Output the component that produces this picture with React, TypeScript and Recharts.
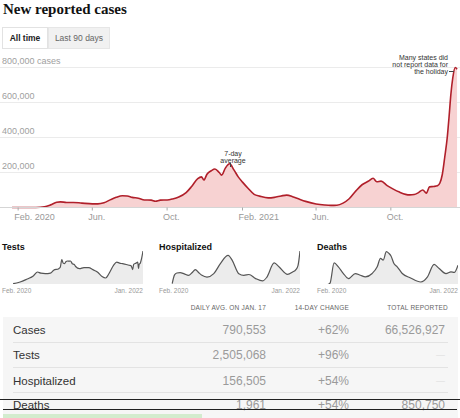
import React from 'react';
import { AreaChart, Area, XAxis, YAxis, CartesianGrid, ReferenceLine } from 'recharts';

const SANS = '"Liberation Sans", Arial, sans-serif';

// ---- Main chart: new reported cases (7-day average) ----
const caseDates = ['2020-01-22','2020-03-01','2020-03-15','2020-03-25','2020-04-04','2020-04-10','2020-04-20','2020-05-01','2020-05-15','2020-06-01','2020-06-10','2020-06-20','2020-07-01','2020-07-10','2020-07-20','2020-07-28','2020-08-05','2020-08-15','2020-08-25','2020-09-05','2020-09-12','2020-09-20','2020-10-01','2020-10-10','2020-10-20','2020-11-01','2020-11-10','2020-11-20','2020-11-26','2020-11-30','2020-12-05','2020-12-12','2020-12-18','2020-12-25','2020-12-29','2021-01-04','2021-01-11','2021-01-18','2021-01-25','2021-02-01','2021-02-10','2021-02-20','2021-03-01','2021-03-15','2021-03-25','2021-04-05','2021-04-14','2021-04-25','2021-05-05','2021-05-15','2021-06-01','2021-06-15','2021-06-25','2021-07-05','2021-07-15','2021-07-25','2021-08-05','2021-08-15','2021-08-25','2021-09-02','2021-09-08','2021-09-15','2021-09-25','2021-10-05','2021-10-15','2021-10-25','2021-11-01','2021-11-08','2021-11-15','2021-11-22','2021-11-28','2021-12-03','2021-12-10','2021-12-16','2021-12-20','2021-12-24','2021-12-28','2022-01-01','2022-01-04','2022-01-07','2022-01-10','2022-01-14','2022-01-17'];
const caseValues = [0,0,4000,15000,30000,32000,29000,29000,25000,21000,21000,27000,45000,58000,67000,66000,58000,53000,43000,42000,36000,42000,43000,49000,60000,85000,120000,165000,175000,157000,190000,210000,220000,200000,185000,225000,250000,215000,175000,145000,110000,75000,65000,55000,58000,66000,71000,60000,47000,35000,20000,14000,12000,13000,25000,50000,95000,130000,150000,167000,147000,151000,125000,105000,88000,75000,72000,74000,85000,100000,82000,118000,120000,124000,140000,190000,290000,400000,520000,650000,740000,800000,790000];

const xTickDates = ['2020-02-01','2020-06-01','2020-10-01','2021-02-01','2021-06-01','2021-10-01'];
const xTickLabels = ['Feb. 2020','Jun.','Oct.','Feb. 2021','Jun.','Oct.'];
const yTickValues = [200000, 400000, 600000, 800000];
const yTickLabels = ['200,000', '400,000', '600,000', '800,000 cases'];

// ---- Small multiples (x = days since Jan. 22, 2020) ----
const testDays = [57,75,93,130,161,183,200,223,249,266,292,300,308,315,322,330,337,345,353,362,372,379,399,422,446,470,491,515,534,548,560,575,591,605,621,640,655,665,673,678,690,699,703,706,712,718,726];
const testValues = [70000,120000,190000,420000,640000,940000,850000,820000,860000,1070000,1190000,1300000,1860000,1600000,1560000,1720000,1760000,1750000,1760000,1560000,1500000,1350000,1190000,1270000,1270000,1100000,940000,600000,490000,750000,1070000,1450000,1680000,1600000,1560000,1500000,1440000,1400000,1120000,1500000,1600000,1680000,1200000,1500000,1600000,1900000,2505068];

const hospDays = [68,80,92,109,130,152,170,187,205,221,247,282,316,356,377,411,437,463,498,533,555,593,619,662,688,705,716,726];
const hospValues = [5000,45000,54000,56000,50000,43000,55000,70000,55000,43000,35000,51000,98000,136000,113000,51000,43000,47000,28000,17000,34000,101000,82000,48000,59000,70000,90000,156505];

const deathDays = [55,67,88,110,136,162,197,223,249,284,310,327,341,357,370,381,396,413,439,482,534,569,603,629,664,690,707,726];
const deathValues = [0,150,2200,1800,1120,610,1120,950,780,1120,1800,2650,2480,3330,3160,2900,2140,1800,1120,670,265,780,2040,1630,1120,1290,1230,1961];

// ---- Table ----
const tableHeaders = ['DAILY AVG. ON JAN. 17', '14-DAY CHANGE', 'TOTAL REPORTED'];
const rowLabels = ['Cases', 'Tests', 'Hospitalized', 'Deaths'];
const rowDaily = ['790,553', '2,505,068', '156,505', '1,961'];
const rowChange = ['+62%', '+96%', '+54%', '+54%'];
const rowTotal = ['66,526,927', '—', '—', '850,750'];

const DAY = 86400000;
const ts = (d: string) => {
  const [y, m, dd] = d.split('-').map(Number);
  return Date.UTC(y, m - 1, dd);
};
const START = ts('2020-01-22');

const mainData = caseDates.map((d, i) => ({ t: ts(d), v: caseValues[i] }));
const xTicks = xTickDates.map(ts);

const XTick = (props: any) => {
  const { x, payload } = props;
  const idx = xTicks.indexOf(payload.value);
  return (
    <text x={x - 4} y={180} fontSize={9} fill="#999" fontFamily={SANS} textAnchor="start">
      {xTickLabels[idx]}
    </text>
  );
};

const YTick = (props: any) => {
  const { y, payload } = props;
  const idx = yTickValues.indexOf(payload.value);
  return (
    <text x={2} y={y - 3.5} fontSize={9} fill="#a0a0a0" fontFamily={SANS} textAnchor="start">
      {yTickLabels[idx]}
    </text>
  );
};

const Small = ({ title, left, days, values, max }: any) => {
  const data = days.map((d: number, i: number) => ({ d, v: values[i] }));
  return (
    <>
      <div style={{ position: 'absolute', left, top: 241.5, fontFamily: SANS, fontWeight: 700, fontSize: 9, color: '#111' }}>{title}</div>
      <div style={{ position: 'absolute', left, top: 248.7 }}>
        <AreaChart width={141} height={35.6} data={data} margin={{ top: 2, right: 0, bottom: 0, left: 0 }} style={{ overflow: 'visible' }}>
          <XAxis dataKey="d" type="number" domain={[0, 726]} hide />
          <YAxis type="number" domain={[0, max]} hide />
          <ReferenceLine segment={[{ x: 0, y: 0 }, { x: days[0], y: 0 }]} stroke="#999" strokeDasharray="1 2" />
          <Area type="monotone" dataKey="v" stroke="#555" strokeWidth={1.2} fill="#ececec" fillOpacity={1} dot={false} isAnimationActive={false} />
        </AreaChart>
      </div>
      <div style={{ position: 'absolute', left, top: 287, fontFamily: SANS, fontSize: 6.5, color: '#999' }}>Feb. 2020</div>
      <div style={{ position: 'absolute', left: left + 141 - 40, width: 40, textAlign: 'right', top: 287, fontFamily: SANS, fontSize: 6.5, color: '#999' }}>Jan. 2022</div>
    </>
  );
};

export default function App() {
  const rowTops = [330, 355, 380.7, 405];
  return (
    <div style={{ position: 'absolute', left: 0, top: 0, width: 460, height: 418, background: '#fff', overflow: 'hidden' }}>
      <div style={{ position: 'absolute', left: 3, top: 1, fontFamily: '"Liberation Serif", serif', fontWeight: 700, fontSize: 15, color: '#121212' }}>
        New reported cases
      </div>
      <div style={{ position: 'absolute', left: 2, top: 27, width: 46, height: 22, boxSizing: 'border-box', border: '1px solid #e2e2e2', background: '#fff', fontFamily: SANS, fontWeight: 700, fontSize: 8.5, color: '#222', display: 'flex', alignItems: 'center', justifyContent: 'center' }}>All time</div>
      <div style={{ position: 'absolute', left: 48, top: 27, width: 62, height: 22, boxSizing: 'border-box', border: '1px solid #e6e6e6', background: '#f1f1f1', fontFamily: SANS, fontSize: 8.5, color: '#666', display: 'flex', alignItems: 'center', justifyContent: 'center' }}>Last 90 days</div>

      <div style={{ position: 'absolute', left: 0, top: 40 }}>
        <AreaChart width={460} height={190} data={mainData} margin={{ top: 27.5, right: 0, bottom: 0, left: 0 }} style={{ overflow: 'visible' }}>
          <CartesianGrid vertical={false} stroke="#ebebeb" />
          <XAxis dataKey="t" type="number" domain={[START - 19.6 * DAY, START + 730.8 * DAY]} ticks={xTicks} tick={<XTick />} tickSize={3} tickLine={{ stroke: '#aaa' }} axisLine={{ stroke: '#d5d5d5' }} height={22.5} interval={0} />
          <YAxis type="number" domain={[0, 800000]} ticks={yTickValues} tick={<YTick />} mirror width={60} axisLine={false} tickLine={false} interval={0} />
          <Area type="monotone" dataKey="v" stroke="#b01f2a" strokeWidth={1.6} fill="#f7d2d2" fillOpacity={1} dot={false} isAnimationActive={false} />
        </AreaChart>
      </div>

      <div style={{ position: 'absolute', left: 200, width: 66, top: 149.5, textAlign: 'center', fontFamily: SANS, fontSize: 7, lineHeight: '7px', color: '#333' }}>7-day<br />average</div>
      <div style={{ position: 'absolute', left: 230, top: 163, width: 1, height: 4, background: '#444' }} />

      <div style={{ position: 'absolute', left: 368, width: 80, top: 53.5, textAlign: 'right', fontFamily: SANS, fontSize: 7, lineHeight: '7px', color: '#333' }}>Many states did<br />not report data for<br />the holiday</div>
      <div style={{ position: 'absolute', left: 449, top: 70.5, width: 5, height: 1, background: '#444' }} />

      <Small title="Tests" left={2} days={testDays} values={testValues} max={2505068} />
      <Small title="Hospitalized" left={159} days={hospDays} values={hospValues} max={156505} />
      <Small title="Deaths" left={317} days={deathDays} values={deathValues} max={3400} />

      <div style={{ position: 'absolute', left: 150, width: 116, top: 304, textAlign: 'right', fontFamily: SANS, fontSize: 6.5, color: '#666', letterSpacing: 0.2 }}>{tableHeaders[0]}</div>
      <div style={{ position: 'absolute', left: 270, width: 79, top: 304, textAlign: 'right', fontFamily: SANS, fontSize: 6.5, color: '#666', letterSpacing: 0.2 }}>{tableHeaders[1]}</div>
      <div style={{ position: 'absolute', left: 360, width: 88, top: 304, textAlign: 'right', fontFamily: SANS, fontSize: 6.5, color: '#666', letterSpacing: 0.2 }}>{tableHeaders[2]}</div>

      <div style={{ position: 'absolute', left: 3, top: 316.7, width: 455, height: 102, background: '#f6f6f6' }} />
      {[341.7, 366.7, 391.7].map((y) => (
        <div key={y} style={{ position: 'absolute', left: 13, top: y, width: 435, height: 1, background: '#e3e3e3' }} />
      ))}
      {rowLabels.map((lab, i) => (
        <React.Fragment key={lab}>
          <div style={{ position: 'absolute', left: 13, top: rowTops[i] - 8, height: 16, lineHeight: '16px', fontFamily: SANS, fontSize: 11.5, color: '#333' }}>{lab}</div>
          <div style={{ position: 'absolute', left: 166, width: 100, textAlign: 'right', top: rowTops[i] - 8, height: 16, lineHeight: '16px', fontFamily: SANS, fontSize: 12, color: '#9a9a9a' }}>{rowDaily[i]}</div>
          <div style={{ position: 'absolute', left: 279, width: 70, textAlign: 'right', top: rowTops[i] - 8, height: 16, lineHeight: '16px', fontFamily: SANS, fontSize: 12, color: '#9a9a9a' }}>{rowChange[i]}</div>
          <div style={{ position: 'absolute', left: 345, width: 100, textAlign: 'right', top: rowTops[i] - 8, height: 16, lineHeight: '16px', fontFamily: SANS, fontSize: rowTotal[i] === '—' ? 9 : 12, color: rowTotal[i] === '—' ? '#dcdcdc' : '#9a9a9a' }}>{rowTotal[i]}</div>
        </React.Fragment>
      ))}

      <div style={{ position: 'absolute', left: 0, top: 398.5, width: 460, height: 1.5, background: '#222' }} />
      <div style={{ position: 'absolute', left: 3, top: 408.5, width: 454, height: 1.5, background: '#222' }} />
      <div style={{ position: 'absolute', left: 3, top: 413.5, width: 199, height: 5, background: '#d3ecce' }} />
    </div>
  );
}
